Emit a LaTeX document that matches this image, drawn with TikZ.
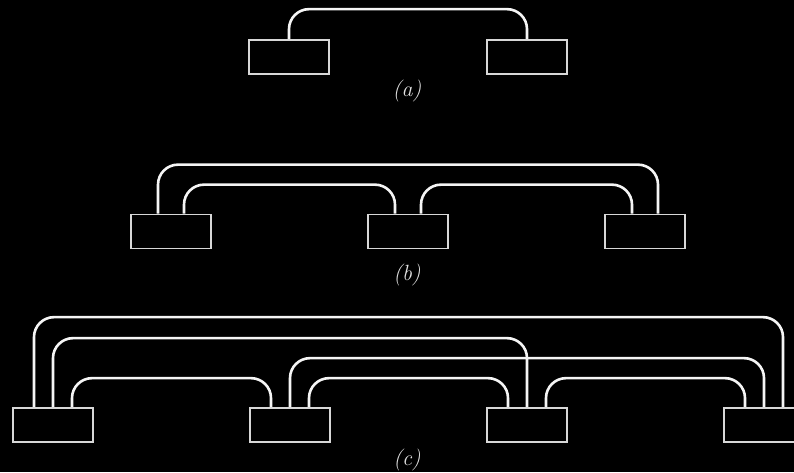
\documentclass[tikz,border=0pt]{standalone}
\usepackage{xcolor}
\definecolor{wirewhite}{RGB}{245,245,245}
\definecolor{boxedge}{RGB}{215,215,215}
\definecolor{capgray}{RGB}{225,225,225}
\usetikzlibrary{positioning}
\tikzset{
  blk/.style={draw=boxedge, fill=black, line width=1.7pt,
              minimum width=80pt, minimum height=34pt, inner sep=0pt},
  link/.style={draw=wirewhite, line width=2.6pt, rounded corners=20pt},
  tag/.style={text=capgray, font=\fontsize{22}{25}\selectfont\itshape},
}

\begin{document}
\begin{tikzpicture}[x=1pt, y=1pt]

\useasboundingbox (0,0) rectangle (794,472);
\fill[black] (0,0) rectangle (794,472);
\clip (0,0) rectangle (794,472);

% (a) two blocks, one link
\node[blk] (a1) at (289,415) {};
\node[blk] (a2) at (527,415) {};
\draw[link] (a1.north) -- ++(0,30) -| (a2.north);
\node[tag] (capa) at (407,381) {(a)};

% (b) three blocks, every pair linked
\node[blk] (b1) at (171,240.5) {};
\node[blk] (b2) at (408,240.5) {};
\node[blk] (b3) at (645,240.5) {};
\draw[link] ([xshift=-13pt]b1.north) -- ++(0,49) -| ([xshift=13pt]b3.north);
\draw[link] ([xshift=13pt]b1.north) -- ++(0,29) -| ([xshift=-13pt]b2.north);
\draw[link] ([xshift=13pt]b2.north) -- ++(0,29) -| ([xshift=-13pt]b3.north);
\node[tag] (capb) at (407,197) {(b)};

% (c) four blocks, every pair linked
\node[blk] (c1) at (53,47) {};
\node[blk] (c2) at (290,47) {};
\node[blk] (c3) at (527,47) {};
\node[blk] (c4) at (764,47) {};
\draw[link] ([xshift=-19pt]c1.north) -- ++(0,90) -| ([xshift=19pt]c4.north);
\draw[link] (c1.north) -- ++(0,69) -| (c3.north);
\draw[link] (c2.north) -- ++(0,49) -| (c4.north);
\draw[link] ([xshift=19pt]c1.north) -- ++(0,29) -| ([xshift=-19pt]c2.north);
\draw[link] ([xshift=19pt]c2.north) -- ++(0,29) -| ([xshift=-19pt]c3.north);
\draw[link] ([xshift=19pt]c3.north) -- ++(0,29) -| ([xshift=-19pt]c4.north);
\node[tag] (capc) at (407,12) {(c)};

\end{tikzpicture}
\end{document}
